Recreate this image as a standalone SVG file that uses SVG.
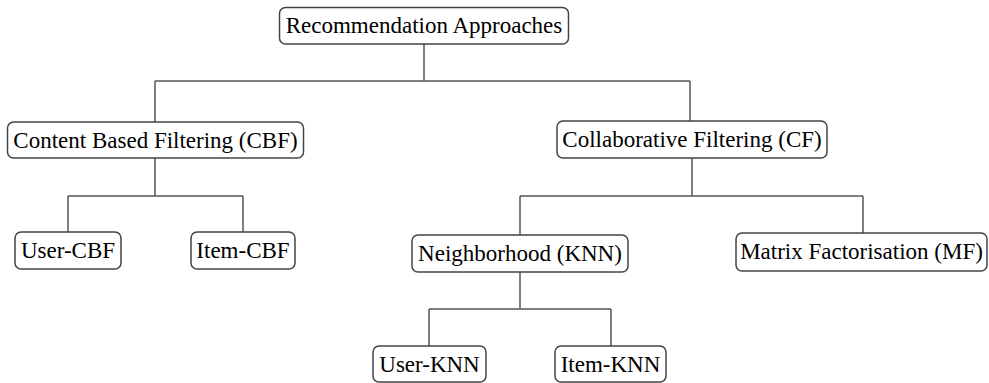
<svg xmlns="http://www.w3.org/2000/svg" width="989" height="383" viewBox="0 0 989 383">
  <style>
    .box { fill: #ffffff; stroke: #444444; stroke-width: 1.5; }
    .lbl { font-family: "Liberation Serif", "Times New Roman", serif; font-size: 23px; fill: #000000; text-anchor: middle; }
    .edge { fill: none; stroke: #555555; stroke-width: 1.5; }
  </style>
  <rect width="989" height="383" fill="#ffffff"/>
  <g id="connectors">
    <path class="edge" d="M424 44 V81 M155 81 H690 M155 81 V122 M690 81 V121"/>
    <path class="edge" d="M155 158 V196 M68 196 H243 M68 196 V232 M243 196 V232"/>
    <path class="edge" d="M692 158 V196 M520 196 H863 M520 196 V235 M863 196 V233"/>
    <path class="edge" d="M520 272 V309 M429 309 H611 M429 309 V346 M611 309 V346"/>
  </g>
  <g id="root">
    <rect class="box" x="279.5" y="7.5" width="289" height="36.5" rx="6"/>
    <text class="lbl" x="424" y="33">Recommendation Approaches</text>
  </g>
  <g id="cbf">
    <rect class="box" x="7.5" y="122" width="296" height="36" rx="6"/>
    <text class="lbl" x="155.5" y="147.5">Content Based Filtering (CBF)</text>
  </g>
  <g id="cf">
    <rect class="box" x="557" y="121" width="270" height="37" rx="6"/>
    <text class="lbl" x="692" y="147">Collaborative Filtering (CF)</text>
  </g>
  <g id="user-cbf">
    <rect class="box" x="15" y="232" width="106" height="37" rx="6"/>
    <text class="lbl" x="68" y="258">User-CBF</text>
  </g>
  <g id="item-cbf">
    <rect class="box" x="191" y="232" width="104" height="37" rx="6"/>
    <text class="lbl" x="243" y="258">Item-CBF</text>
  </g>
  <g id="knn">
    <rect class="box" x="412" y="235" width="216" height="37" rx="6"/>
    <text class="lbl" x="520" y="261">Neighborhood (KNN)</text>
  </g>
  <g id="mf">
    <rect class="box" x="736" y="233" width="251" height="38" rx="6"/>
    <text class="lbl" x="861.5" y="259">Matrix Factorisation (MF)</text>
  </g>
  <g id="user-knn">
    <rect class="box" x="373" y="346" width="113" height="36" rx="6"/>
    <text class="lbl" x="429.5" y="371.5">User-KNN</text>
  </g>
  <g id="item-knn">
    <rect class="box" x="555" y="346" width="111" height="36" rx="6"/>
    <text class="lbl" x="610.5" y="371.5">Item-KNN</text>
  </g>
</svg>
